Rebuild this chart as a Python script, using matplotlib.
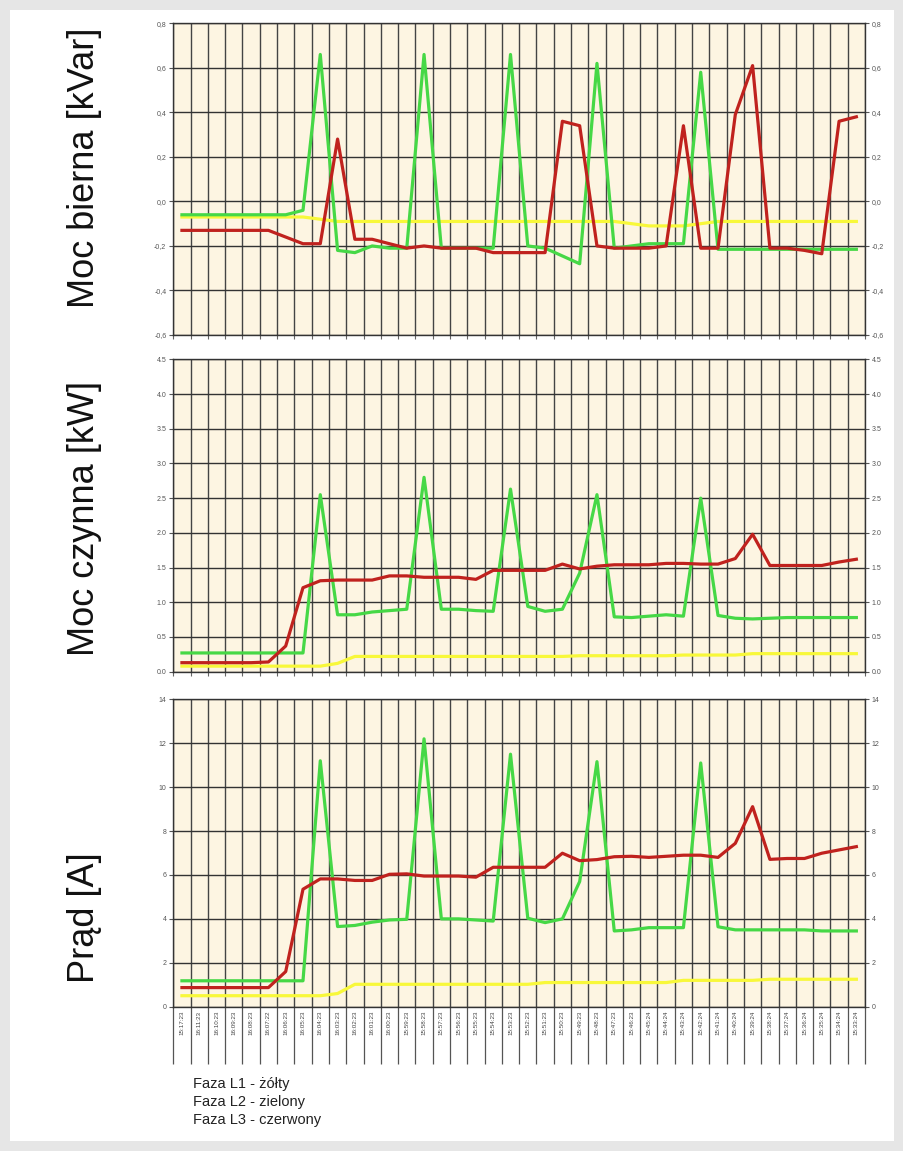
import matplotlib
matplotlib.use("Agg")
import matplotlib.pyplot as plt
from matplotlib.patches import Rectangle
from matplotlib.ticker import FixedLocator, FuncFormatter

plt.rcParams['font.family'] = ['Liberation Sans', 'DejaVu Sans']

# czas pomiaru (etykiety osi X)
czas = ["15:17:23", "16:11:23", "16:10:23", "16:09:23", "16:08:23", "16:07:22",
        "16:06:23", "16:05:23", "16:04:23", "16:03:23", "16:02:23", "16:01:23",
        "16:00:23", "15:59:23", "15:58:23", "15:57:23", "15:56:23", "15:55:23",
        "15:54:23", "15:53:23", "15:52:23", "15:51:23", "15:50:23", "15:49:23",
        "15:48:23", "15:47:23", "15:46:23", "15:45:24", "15:44:24", "15:43:24",
        "15:42:24", "15:41:24", "15:40:24", "15:39:24", "15:38:24", "15:37:24",
        "15:36:24", "15:35:24", "15:34:24", "15:33:24"]

# moc bierna [kVar]
q_l1 = [-0.07, -0.07, -0.07, -0.07, -0.07, -0.07, -0.07, -0.07, -0.08, -0.09,
        -0.09, -0.09, -0.09, -0.09, -0.09, -0.09, -0.09, -0.09, -0.09, -0.09,
        -0.09, -0.09, -0.09, -0.09, -0.09, -0.09, -0.10, -0.11, -0.11, -0.11,
        -0.10, -0.09, -0.09, -0.09, -0.09, -0.09, -0.09, -0.09, -0.09, -0.09]
q_l2 = [-0.06, -0.06, -0.06, -0.06, -0.06, -0.06, -0.06, -0.04, 0.66, -0.22,
        -0.23, -0.20, -0.21, -0.21, 0.66, -0.21, -0.21, -0.21, -0.21, 0.66,
        -0.20, -0.21, -0.245, -0.28, 0.62, -0.21, -0.20, -0.19, -0.19, -0.19,
        0.58, -0.215, -0.215, -0.215, -0.215, -0.215, -0.215, -0.215, -0.215, -0.215]
q_l3 = [-0.13, -0.13, -0.13, -0.13, -0.13, -0.13, -0.16, -0.19, -0.19, 0.28,
        -0.17, -0.17, -0.19, -0.21, -0.20, -0.21, -0.21, -0.21, -0.23, -0.23,
        -0.23, -0.23, 0.36, 0.34, -0.20, -0.21, -0.21, -0.21, -0.20, 0.34,
        -0.21, -0.21, 0.39, 0.61, -0.21, -0.21, -0.22, -0.235, 0.36, 0.38]

# moc czynna [kW]
p_l1 = [0.08, 0.08, 0.08, 0.08, 0.08, 0.08, 0.08, 0.08, 0.08, 0.12,
        0.22, 0.22, 0.22, 0.22, 0.22, 0.22, 0.22, 0.22, 0.22, 0.22,
        0.22, 0.22, 0.22, 0.23, 0.23, 0.23, 0.23, 0.23, 0.23, 0.24,
        0.24, 0.24, 0.24, 0.26, 0.26, 0.26, 0.26, 0.26, 0.26, 0.26]
p_l2 = [0.27, 0.27, 0.27, 0.27, 0.27, 0.27, 0.27, 0.27, 2.55, 0.82,
        0.82, 0.86, 0.88, 0.90, 2.80, 0.90, 0.90, 0.88, 0.87, 2.63,
        0.94, 0.87, 0.90, 1.42, 2.55, 0.79, 0.78, 0.80, 0.82, 0.80,
        2.50, 0.81, 0.77, 0.76, 0.77, 0.78, 0.78, 0.78, 0.78, 0.78]
p_l3 = [0.13, 0.13, 0.13, 0.13, 0.13, 0.14, 0.37, 1.21, 1.31, 1.32,
        1.32, 1.32, 1.38, 1.38, 1.36, 1.36, 1.36, 1.33, 1.46, 1.46,
        1.46, 1.46, 1.55, 1.48, 1.52, 1.54, 1.54, 1.54, 1.56, 1.56,
        1.55, 1.55, 1.63, 1.98, 1.53, 1.53, 1.53, 1.53, 1.58, 1.62]

# prad [A]
i_l1 = [0.50, 0.50, 0.50, 0.50, 0.50, 0.50, 0.50, 0.50, 0.50, 0.60,
        1.02, 1.02, 1.02, 1.02, 1.02, 1.02, 1.02, 1.02, 1.02, 1.02,
        1.02, 1.10, 1.10, 1.10, 1.10, 1.10, 1.10, 1.10, 1.10, 1.20,
        1.20, 1.20, 1.20, 1.20, 1.25, 1.25, 1.25, 1.25, 1.25, 1.25]
i_l2 = [1.18, 1.18, 1.18, 1.18, 1.18, 1.18, 1.18, 1.18, 11.2, 3.65,
        3.70, 3.85, 3.95, 3.98, 12.2, 4.00, 4.00, 3.95, 3.90, 11.5,
        4.03, 3.83, 4.00, 5.70, 11.16, 3.45, 3.50, 3.60, 3.60, 3.60,
        11.1, 3.64, 3.50, 3.50, 3.50, 3.50, 3.50, 3.45, 3.45, 3.45]
i_l3 = [0.87, 0.87, 0.87, 0.87, 0.87, 0.87, 1.60, 5.35, 5.82, 5.82,
        5.75, 5.75, 6.03, 6.05, 5.95, 5.95, 5.95, 5.90, 6.35, 6.35,
        6.35, 6.35, 6.99, 6.65, 6.70, 6.83, 6.85, 6.80, 6.85, 6.90,
        6.90, 6.80, 7.44, 9.11, 6.71, 6.75, 6.75, 6.99, 7.14, 7.29]

kolory = {'L1': '#f8f83a', 'L2': '#46d846', 'L3': '#c0221e'}
tlo = '#fdf5e2'

W, H = 904, 1151
fig = plt.figure(figsize=(W / 100, H / 100), dpi=100)
fig.patch.set_facecolor('#e6e6e6')
fig.add_artist(Rectangle((10 / W, 10 / H), 884 / W, 1131 / H,
                         transform=fig.transFigure, facecolor='white',
                         edgecolor='none', zorder=0))

left, width = 173.3 / W, 691.7 / W
panele = [
    # (top px, bottom px, dane, ylim, krok, format, opis, środek opisu px)
    (23.3, 335.0, (q_l1, q_l2, q_l3), (-0.6, 0.8), 0.2,
     lambda v, p: ('%.1f' % v).replace('.', ','), 'Moc bierna [kVar]', 168),
    (359.3, 671.7, (p_l1, p_l2, p_l3), (0.0, 4.5), 0.5,
     lambda v, p: '%.1f' % v, 'Moc czynna [kW]', 518),
    (699.3, 1006.7, (i_l1, i_l2, i_l3), (0, 14), 2,
     lambda v, p: '%d' % round(v), 'Prąd [A]', 918),
]

n = len(czas)
x = list(range(n))
for k, (top, bot, dane, ylim, krok, fmt, opis, yc) in enumerate(panele):
    ax = fig.add_axes([left, 1 - bot / H, width, (bot - top) / H])
    ax.set_facecolor(tlo)
    l1, l2, l3 = dane
    ax.plot(x, l1, color=kolory['L1'], lw=2.3, zorder=3)
    ax.plot(x, l2, color=kolory['L2'], lw=2.3, zorder=4)
    ax.plot(x, l3, color=kolory['L3'], lw=2.3, zorder=5)
    ax.set_xlim(-0.5, n - 0.5)
    ax.set_ylim(*ylim)
    yt = []
    v = ylim[0]
    while v <= ylim[1] + 1e-9:
        yt.append(v)
        v += krok
    ax.set_yticks(yt)
    ax.yaxis.set_major_formatter(FuncFormatter(fmt))
    ax.tick_params(axis='y', which='major', left=True, right=True,
                   labelleft=True, labelright=True, labelsize=5,
                   labelcolor='#555555', length=3, width=0.8, color='#555555',
                   pad=2)
    ax.grid(axis='y', color='#333333', lw=1.0, zorder=1)
    # pionowe linie siatki na granicach kategorii
    ax.xaxis.set_minor_locator(FixedLocator([i - 0.5 for i in range(n + 1)]))
    ax.grid(axis='x', which='minor', color='#444444', lw=1.0, zorder=1)
    ax.set_xticks(x)
    if k == 2:
        ax.set_xticklabels(czas, rotation=90, fontsize=4.5, color='#444444')
        ax.tick_params(axis='x', which='minor', length=41, width=0.9,
                       color='#555555', direction='out')
    else:
        ax.set_xticklabels([])
        ax.tick_params(axis='x', which='minor', length=3, width=0.8,
                       color='#666666', direction='out')
    ax.tick_params(axis='x', which='major', length=0, pad=3)
    for s in ax.spines.values():
        s.set_color('#333333')
        s.set_linewidth(1.0)
    fig.text(85 / W, 1 - yc / H, opis, rotation=90, ha='center', va='center',
             fontsize=26, color='#111111')

legenda = ["Faza L1 - żółty", "Faza L2 - zielony", "Faza L3 - czerwony"]
for j, t in enumerate(legenda):
    fig.text(193 / W, 1 - (1084 + 18 * j) / H, t, ha='left', va='center',
             fontsize=10.5, color='#222222')

fig.savefig('out.png', dpi=100, facecolor=fig.get_facecolor())
